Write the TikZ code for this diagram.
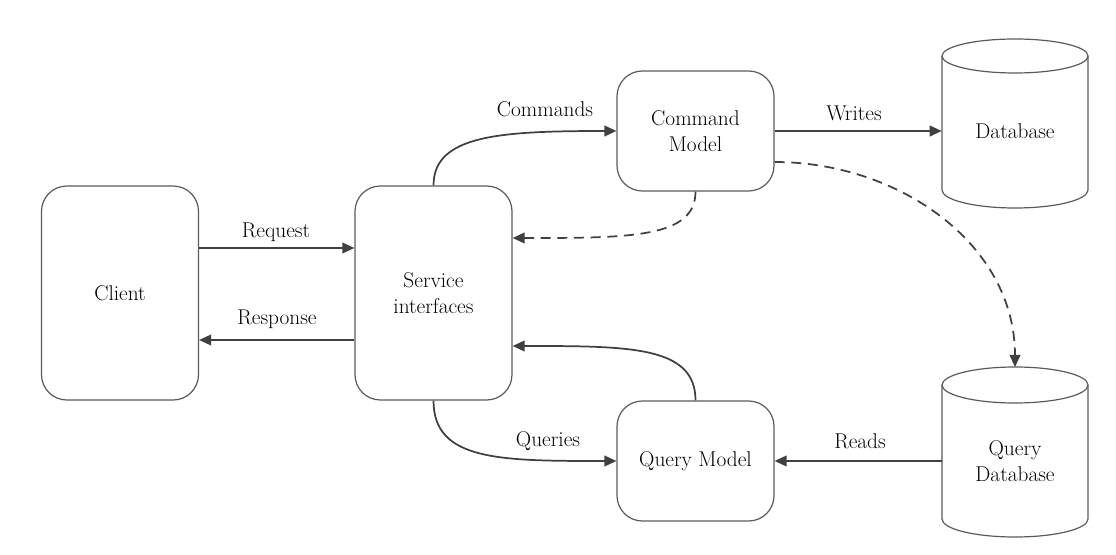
\documentclass[tikz,border=0pt]{standalone}
\usetikzlibrary{arrows.meta,calc}
\definecolor{lineC}{HTML}{404040}
\definecolor{boxC}{HTML}{5A5A5A}
\begin{document}
\begin{tikzpicture}[x=0.75pt,y=-0.75pt,
  every node/.style={font=\rmfamily\fontsize{16}{19.5}\selectfont, text=black},
  procbox/.style={draw=boxC, line width=0.9pt, rounded corners=19pt, align=center, inner sep=0pt},
  tallbox/.style={procbox, minimum width=117.75pt, minimum height=160.5pt},
  smallbox/.style={procbox, minimum width=117.75pt, minimum height=90pt},
  dbtext/.style={align=center, inner sep=0pt, minimum width=109.5pt},
  cyl/.style={draw=boxC, line width=0.9pt},
  conn/.style={draw=lineC, line width=1.3pt, -{Triangle[length=9pt,width=8pt]}},
  dconn/.style={conn, dash pattern=on 7.5pt off 5pt},
  lbl/.style={inner sep=0pt}]
\useasboundingbox (0,0) rectangle (1116,555);

% cylinders
\path[cyl] (942,56) -- (942,190) arc[start angle=180, end angle=360, x radius=54.75pt, y radius=13.5pt] -- (1088,56);
\path[cyl] (1015,56) ellipse [x radius=54.75pt, y radius=12.75pt];
\path[cyl] (942,385) -- (942,519) arc[start angle=180, end angle=360, x radius=54.75pt, y radius=13.5pt] -- (1088,385);
\path[cyl] (1015,385) ellipse [x radius=54.75pt, y radius=13.5pt];

\node[tallbox] (client) at (120,293) {Client};
\node[tallbox] (svc) at (433.5,293) {Service\\interfaces};
\node[smallbox] (cm) at (695.5,131) {Command\\Model};
\node[smallbox] (qm) at (695.5,461) {Query Model};
\node[dbtext] (db) at (1015,131) {Database};
\node[dbtext] (qdb) at (1015,461) {Query\\Database};
\coordinate (qdbtop) at (1015,367);

% Request / Response
\draw[conn] ($(client.east)+(0,-45)$) -- ($(svc.west)+(0,-45)$);
\node[lbl] (lreq) at (276,232) {Request};
\draw[conn] ($(svc.west)+(0,47)$) -- ($(client.east)+(0,47)$);
\node[lbl] (lresp) at (277,319) {Response};

% Commands
\draw[conn] (svc.north) .. controls (433.5,135) and (500,131) .. (cm.west);
\node[lbl] (lcmd) at (545,109) {Commands};
% Writes
\draw[conn] (cm.east) -- (db.west);
\node[lbl] (lwr) at (854,113) {Writes};
% dashed back to service
\draw[dconn] (cm.south) .. controls (695.5,238) and (630,238) .. ($(svc.east)+(0,-55)$);
% dashed to query database
\draw[dconn] ($(cm.east)+(0,31)$) to[out=0, in=90] (qdbtop);
% Query model back to service
\draw[conn] (qm.north) .. controls (695.5,346) and (630,346) .. ($(svc.east)+(0,53)$);
% Queries
\draw[conn] (svc.south) .. controls (433.5,461) and (500,461) .. (qm.west);
\node[lbl] (lq) at (548,441) {Queries};
% Reads
\draw[conn] (qdb.west) -- (qm.east);
\node[lbl] (lrd) at (860,441) {Reads};
\end{tikzpicture}
\end{document}
